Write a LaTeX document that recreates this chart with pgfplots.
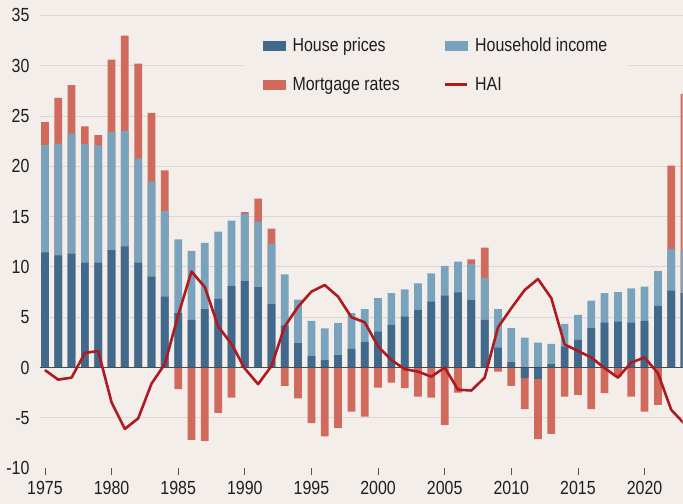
\documentclass[border=0pt]{standalone}
\usepackage{fontspec}
\setmainfont{Liberation Sans}[FakeStretch=0.84]
\usepackage{pgfplots}
\pgfplotsset{compat=1.18}
\usepackage{pgfplotstable}
\definecolor{bg}{HTML}{F4EEEB}
\definecolor{gridc}{HTML}{DDD6D3}
\definecolor{hpc}{HTML}{41698C}
\definecolor{incc}{HTML}{79A3BD}
\definecolor{mrc}{HTML}{CF6A5D}
\definecolor{haic}{HTML}{AE1A1F}
\definecolor{zeroc}{HTML}{4A4A4A}
\definecolor{txt}{HTML}{1E1E1E}
\definecolor{tickc}{HTML}{555555}

% hp = top of house prices bar, lt = top of household income bar,
% re = end of mortgage rates bar (top if positive, bottom if negative)
\pgfplotstableread{
year hp lt re hai
1975 11.46 22.10 24.40 -0.25
1976 11.16 22.25 26.80 -1.20
1977 11.32 23.24 28.07 -1.00
1978 10.43 22.20 23.97 1.45
1979 10.43 22.08 23.10 1.65
1980 11.66 23.40 30.60 -3.45
1981 12.05 23.50 33.00 -6.10
1982 10.43 20.80 30.20 -5.05
1983 9.04 18.50 25.30 -1.60
1984 7.05 15.56 19.60 0.35
1985 5.40 12.75 -2.15 5.20
1986 4.74 11.60 -7.18 9.55
1987 5.80 12.40 -7.28 8.00
1988 6.82 13.50 -4.50 4.10
1989 8.10 14.60 -2.98 2.35
1990 8.60 15.25 15.45 -0.10
1991 8.00 14.50 16.80 -1.65
1992 6.30 12.30 13.80 0.15
1993 4.17 9.27 -1.82 4.10
1994 2.42 6.76 -3.07 6.05
1995 1.16 4.64 -5.53 7.55
1996 0.73 3.90 -6.85 8.20
1997 1.23 4.44 -6.02 7.05
1998 1.86 5.40 -4.37 5.00
1999 2.55 5.80 -4.87 4.50
2000 3.58 6.89 -2.00 2.10
2001 4.24 7.39 -1.49 0.75
2002 5.07 7.78 -2.05 -0.15
2003 5.73 8.36 -2.88 -0.40
2004 6.55 9.37 -2.98 -0.90
2005 7.15 10.10 -5.70 0.00
2006 7.47 10.53 -2.48 -2.20
2007 6.72 10.30 10.76 -2.28
2008 4.74 8.94 11.92 -1.00
2009 1.99 5.80 -0.40 4.00
2010 0.53 3.91 -1.82 5.90
2011 -1.06 2.98 -4.13 7.70
2012 -1.12 2.48 -7.11 8.80
2013 0.33 2.35 -6.58 6.90
2014 2.09 4.34 -2.88 2.30
2015 2.75 5.23 -2.71 1.65
2016 3.91 6.65 -4.13 1.00
2017 4.47 7.39 -2.54 -0.05
2018 4.57 7.49 -0.90 -1.00
2019 4.47 7.88 -2.88 0.50
2020 4.64 8.04 -4.37 1.00
2021 6.13 9.60 -3.70 -0.55
2022 7.65 11.79 20.06 -4.20
2023 7.39 11.62 27.20 -5.60
}\datatable

\begin{document}
\begin{tikzpicture}
\fill[bg] (0,0) rectangle (683bp,504bp);
\begin{axis}[
  at={(40bp,35.5bp)}, anchor=south west,
  scale only axis, width=643bp, height=453.1bp,
  xmin=1974.63, xmax=2022.85,
  ymin=-10, ymax=35,
  clip=true,
  axis x line*=bottom, axis y line*=left,
  axis line style={draw=none},
  xtick={1975,1980,...,2020},
  ytick={-5,0,...,35},
  extra y ticks={-10}, extra y tick style={grid=none},
  ymajorgrids, grid style={gridc, line width=0.9bp},
  tick align=outside,
  major tick length=7bp,
  x tick style={draw=tickc, line width=0.8bp},
  y tick style={draw=none},
  tick label style={font=\fontsize{19bp}{22bp}\selectfont, text=txt},
  /pgf/number format/assume math mode=true,
  x tick label style={/pgf/number format/1000 sep={}, yshift=-3bp},
  legend columns=2,
  legend cell align=left,
  legend style={at={(0.316,0.968)}, anchor=north west, fill=bg, draw=none,
    inner xsep=20bp, inner ysep=6bp, row sep=20bp,
    font=\fontsize{19bp}{22bp}\selectfont, text=txt,
    /tikz/every odd column/.append style={column sep=5bp},
    /tikz/every even column/.append style={column sep=42bp}},
]
\addlegendimage{legend image code/.code={\fill[hpc] (0bp,-4.5bp) rectangle (22bp,4.5bp);}}
\addlegendentry{House prices}
\addlegendimage{legend image code/.code={\fill[incc] (0bp,-4.5bp) rectangle (22bp,4.5bp);}}
\addlegendentry{Household income}
\addlegendimage{legend image code/.code={\fill[mrc] (0bp,-4.5bp) rectangle (22bp,4.5bp);}}
\addlegendentry{Mortgage rates}
\addlegendimage{legend image code/.code={\draw[haic, line width=2.4bp] (0bp,0bp) -- (22bp,0bp);}}
\addlegendentry{HAI}

\addplot[ybar, bar width=0.58, bar shift=0pt, fill=mrc, draw=none, forget plot] table[x=year, y=re] {\datatable};
\addplot[ybar, bar width=0.58, bar shift=0pt, fill=incc, draw=none, forget plot] table[x=year, y=lt] {\datatable};
\addplot[ybar, bar width=0.58, bar shift=0pt, fill=hpc, draw=none, forget plot] table[x=year, y=hp] {\datatable};
\draw[zeroc, line width=1bp] (axis cs:1974,0) -- (axis cs:2024,0);
\addplot[haic, line width=2.6bp, line join=round, mark=none, forget plot] table[x=year, y=hai] {\datatable};
\end{axis}
\end{tikzpicture}
\end{document}
